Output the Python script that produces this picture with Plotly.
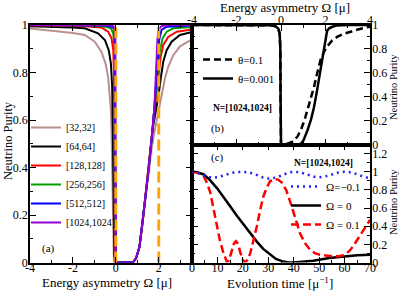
import plotly.graph_objects as go

FONT = "Liberation Serif, Times New Roman, serif"
W, H = 399, 293

# ---------------- Panel (a): purity vs energy asymmetry for several N ----------------
labels_a = ["[32,32]", "[64,64]", "[128,128]", "[256,256]", "[512,512]", "[1024,1024]"]
colors_a = ["#bc8f8f", "#000000", "#ff0000", "#00a000", "#0000ff", "#9400d3"]

omega_32 = [-4, -3, -2, -1.45, -0.98, -0.67, -0.48, -0.36, -0.28, -0.23, -0.2, -0.17, -0.14, -0.12, -0.09, 0.0,
            0.8, 0.95, 1.1, 1.25, 1.41, 1.54, 1.66, 1.8, 1.95, 2.1, 2.2, 2.29, 2.44, 2.68, 2.99, 3.46, 3.6]
purity_32 = [0.985, 0.977, 0.966, 0.958, 0.93, 0.887, 0.838, 0.782, 0.712, 0.64, 0.557, 0.4, 0.2, 0.05, 0.0, 0.0,
             0.0, 0.02, 0.065, 0.17, 0.30, 0.40, 0.475, 0.55, 0.62, 0.685, 0.735, 0.775, 0.824, 0.873, 0.91, 0.937, 0.942]

omega_64 = [-4, -3, -2, -1.45, -0.83, -0.51, -0.33, -0.23, -0.17, -0.14, -0.12, -0.1, -0.07, 0.0,
            0.8, 0.95, 1.1, 1.25, 1.41, 1.54, 1.64, 1.72, 1.82, 1.92, 2.0, 2.1, 2.21, 2.37, 2.6, 2.99, 3.6]
purity_64 = [0.995, 0.993, 0.99, 0.986, 0.965, 0.937, 0.894, 0.838, 0.74, 0.557, 0.4, 0.2, 0.03, 0.0,
             0.0, 0.02, 0.065, 0.17, 0.30, 0.40, 0.486, 0.565, 0.615, 0.665, 0.71, 0.78, 0.845, 0.894, 0.93, 0.958, 0.972]

omega_128 = [-4, -2, -1.45, -0.67, -0.36, -0.2, -0.12, -0.09, -0.08, -0.07, -0.05, 0.0,
             0.8, 0.95, 1.1, 1.25, 1.41, 1.54, 1.64, 1.72, 1.78, 1.87, 1.95, 2.01, 2.09, 2.21, 2.44, 2.84, 3.6]
purity_128 = [0.999, 0.997, 0.995, 0.99, 0.972, 0.944, 0.894, 0.81, 0.557, 0.3, 0.05, 0.0,
              0.0, 0.02, 0.065, 0.17, 0.30, 0.40, 0.486, 0.57, 0.63, 0.70, 0.75, 0.796, 0.866, 0.916, 0.95, 0.972, 0.982]

omega_256 = [-4, -1, -0.51, -0.23, -0.12, -0.08, -0.06, -0.05, -0.04, -0.03, 0.0,
             0.8, 0.95, 1.1, 1.25, 1.41, 1.54, 1.64, 1.72, 1.8, 1.87, 1.93, 1.98, 2.06, 2.18, 2.37, 2.68, 3.6]
purity_256 = [1.0, 0.998, 0.993, 0.986, 0.965, 0.923, 0.85, 0.6, 0.3, 0.05, 0.0,
              0.0, 0.02, 0.065, 0.17, 0.30, 0.40, 0.486, 0.57, 0.655, 0.73, 0.78, 0.824, 0.894, 0.944, 0.972, 0.986, 0.992]

omega_512 = [-4, -0.5, -0.2, -0.08, -0.05, -0.04, -0.03, -0.02, 0.0,
             0.8, 0.95, 1.1, 1.25, 1.41, 1.54, 1.64, 1.72, 1.8, 1.87, 1.92, 1.97, 2.02, 2.13, 2.37, 3.6]
purity_512 = [1.0, 0.998, 0.993, 0.986, 0.958, 0.894, 0.6, 0.2, 0.0,
              0.0, 0.02, 0.065, 0.17, 0.30, 0.40, 0.486, 0.57, 0.655, 0.75, 0.83, 0.89, 0.937, 0.979, 0.993, 0.998]

omega_1024 = [-4, -0.3, -0.12, -0.05, -0.03, -0.02, -0.01, 0.0,
              0.8, 0.95, 1.1, 1.25, 1.41, 1.54, 1.64, 1.72, 1.8, 1.85, 1.9, 1.94, 2.0, 2.1, 2.21, 2.5, 3.6]
purity_1024 = [1.0, 0.999, 0.995, 0.99, 0.985, 0.95, 0.5, 0.0,
               0.0, 0.02, 0.065, 0.17, 0.30, 0.40, 0.486, 0.57, 0.655, 0.75, 0.86, 0.94, 0.98, 0.993, 0.997, 1.0, 1.0]

omegas_a = [omega_32, omega_64, omega_128, omega_256, omega_512, omega_1024]
purities_a = [purity_32, purity_64, purity_128, purity_256, purity_512, purity_1024]

# vertical reference lines (orange dashed) at Omega = 0 and 2
vline_omega = [0, 2]
vline_purity = [0, 1]

# ---------------- Panel (b): two mixing angles, N=[1024,1024] ----------------
omega_b_01 = [-4, -1, -0.45, -0.25, -0.12, -0.06, -0.03, -0.02, 0.0, 0.07, 0.3, 0.59, 0.75, 0.89, 1.05, 1.19, 1.33,
              1.48, 1.63, 1.78, 1.92, 2.07, 2.3, 2.52, 2.8, 3.11, 3.5, 3.85, 4.0]
purity_b_01 = [1.0, 1.0, 0.997, 0.99, 0.97, 0.93, 0.8, 0.4, 0.0, 0.0, 0.008, 0.03, 0.07, 0.12, 0.2, 0.29, 0.38,
               0.48, 0.6, 0.71, 0.77, 0.82, 0.87, 0.90, 0.925, 0.944, 0.965, 0.98, 0.985]

omega_b_0001 = [-4, -1, -0.45, -0.25, -0.12, -0.06, -0.03, -0.02, 0.0, 0.75, 0.89, 1.0, 1.19, 1.35, 1.48, 1.6,
                1.70, 1.78, 1.85, 1.93, 2.0, 2.07, 2.15, 2.3, 2.5, 3.0, 4.0]
purity_b_0001 = [1.0, 1.0, 0.997, 0.99, 0.97, 0.93, 0.8, 0.4, 0.0, 0.0, 0.006, 0.03, 0.118, 0.21, 0.31, 0.43,
                 0.54, 0.63, 0.71, 0.81, 0.90, 0.95, 0.97, 0.985, 0.995, 1.0, 1.0]

# ---------------- Panel (c): time evolution ----------------
time_m01 = [0, 2, 4, 6, 8, 10, 12, 14, 16, 18, 20, 22, 24, 26, 28, 30, 32, 34, 36, 38, 40, 42, 44, 46, 48, 50,
            52, 54, 56, 58, 60, 62, 64, 66, 68, 70]
purity_m01 = [1.0, 0.99, 0.965, 0.945, 0.935, 0.94, 0.955, 0.975, 0.99, 0.998, 1.0, 0.995, 0.98, 0.955, 0.935,
              0.925, 0.93, 0.945, 0.97, 0.99, 1.0, 0.995, 0.98, 0.96, 0.945, 0.94, 0.945, 0.96, 0.98, 0.995,
              1.0, 0.995, 0.98, 0.96, 0.94, 0.93]

time_0 = [0, 2, 4.6, 7, 9.8, 12.5, 15, 17.5, 20.2, 23, 25.5, 28, 30.7, 33, 35.9, 38, 40, 43, 47.7, 54, 60.8, 65, 70]
purity_0 = [1.0, 0.995, 0.97, 0.91, 0.82, 0.72, 0.62, 0.52, 0.42, 0.32, 0.23, 0.15, 0.085, 0.04, 0.01, 0.0, 0.0,
            0.005, 0.02, 0.05, 0.07, 0.08, 0.085]

time_p01 = [0, 2, 4.6, 6, 7.2, 8.5, 9.8, 11, 12.4, 13.7, 14.5, 15.5, 16.5, 17.3, 18.2, 19, 20, 20.9, 21.8, 22.9,
            24, 25.5, 27, 28.1, 29.5, 30.7, 32.7, 34, 35.3, 37, 38.5, 40.5, 42.5, 44.5, 46.4, 48.5, 50.3, 55.5,
            58, 60.1, 62, 63.4, 65, 66.7, 68.5, 70]
purity_p01 = [1.0, 0.99, 0.95, 0.87, 0.77, 0.6, 0.40, 0.24, 0.10, 0.01, 0.02, 0.12, 0.21, 0.235, 0.2, 0.11, 0.03,
              0.0, 0.03, 0.1, 0.22, 0.4, 0.6, 0.73, 0.83, 0.895, 0.92, 0.91, 0.88, 0.8, 0.68, 0.5, 0.32, 0.21,
              0.14, 0.1, 0.085, 0.066, 0.07, 0.085, 0.13, 0.18, 0.25, 0.32, 0.4, 0.47]

fig = go.Figure()

for lab, col, xs, ys in zip(labels_a, colors_a, omegas_a, purities_a):
    fig.add_trace(go.Scatter(x=xs, y=ys, mode="lines", name=lab, line=dict(color=col, width=2),
                             xaxis="x", yaxis="y", legend="legend"))
for xv in vline_omega:
    fig.add_trace(go.Scatter(x=[xv, xv], y=vline_purity, mode="lines", showlegend=False,
                             line=dict(color="#ffa500", width=3, dash="11px,5px"), xaxis="x", yaxis="y"))

fig.add_trace(go.Scatter(x=omega_b_0001, y=purity_b_0001, mode="lines", name="θ=0.001",
                         line=dict(color="black", width=2.5), xaxis="x2", yaxis="y2", legend="legend2",
                         legendrank=2))
fig.add_trace(go.Scatter(x=omega_b_01, y=purity_b_01, mode="lines", name="θ=0.1",
                         line=dict(color="black", width=2.5, dash="7px,4px"), xaxis="x2", yaxis="y2",
                         legend="legend2", legendrank=1))

fig.add_trace(go.Scatter(x=time_0, y=purity_0, mode="lines", name="Ω = 0",
                         line=dict(color="black", width=2.5), xaxis="x3", yaxis="y3", legend="legend3",
                         legendrank=2))
fig.add_trace(go.Scatter(x=time_p01, y=purity_p01, mode="lines", name="Ω = 0.1",
                         line=dict(color="#ff0000", width=2.5, dash="8px,4px"), xaxis="x3", yaxis="y3",
                         legend="legend3", legendrank=3))
fig.add_trace(go.Scatter(x=time_m01, y=purity_m01, mode="lines", name="Ω=−0.1",
                         line=dict(color="#2020ff", width=2.5, dash="2px,4px"), xaxis="x3", yaxis="y3",
                         legend="legend3", legendrank=1))

def px(x):
    return x / W

def py(y):
    return 1 - y / H

ax_common = dict(showline=True, linewidth=1.5, linecolor="black", ticks="inside", ticklen=6, tickwidth=1.2,
                 tickcolor="black", mirror="ticks", showgrid=False, zeroline=False, automargin=False,
                 tickfont=dict(family=FONT, size=12, color="black"))
minor_c = dict(ticks="inside", ticklen=3, tickwidth=1, tickcolor="black")

xa_dom = [px(30), px(192)]
xb_dom = [px(192), px(370)]
y_top, y_mid, y_bot = py(25), py(144.5), py(262.5)

fig.update_layout(
    width=W, height=H, margin=dict(l=0, r=0, t=0, b=0),
    paper_bgcolor="white", plot_bgcolor="white", template="none",
    font=dict(family=FONT, color="black"),
    xaxis=dict(domain=xa_dom, anchor="y", range=[-4, 3.55], tickvals=[-4, -2, 0, 2],
               ticktext=["-4", "-2", "0", "2"], ticklabelstandoff=-7,
               minor=dict(dtick=1, tick0=0, **minor_c), **ax_common),
    yaxis=dict(domain=[y_bot, y_top], anchor="x", range=[0, 1], dtick=0.2, ticklabelstandoff=-2,
               minor=dict(dtick=0.1, **minor_c), **ax_common),
    xaxis2=dict(domain=xb_dom, anchor="y2", range=[-4, 4], side="top", tickvals=[-4, -2, 0, 2, 4],
                ticktext=["-4", "-2", "0", "2", "4"], ticklabelstandoff=-6,
                minor=dict(dtick=1, tick0=0, **minor_c), **ax_common),
    yaxis2=dict(domain=[y_mid, y_top], anchor="x2", side="right", range=[0, 1], dtick=0.2,
                ticklabelstandoff=-2, minor=dict(dtick=0.1, **minor_c), **ax_common),
    xaxis3=dict(domain=xb_dom, anchor="y3", range=[0, 70], dtick=10, ticklabelstandoff=-7,
                minor=dict(dtick=5, **minor_c), **ax_common),
    yaxis3=dict(domain=[y_bot, y_mid], anchor="x3", side="right", range=[0, 1.3], dtick=0.2,
                ticklabelstandoff=-2, minor=dict(dtick=0.1, **minor_c), **ax_common),
    legend=dict(x=px(26), y=py(113), xanchor="left", yanchor="top", bgcolor="rgba(0,0,0,0)",
                font=dict(family=FONT, size=10, color="black"), itemwidth=30, tracegroupgap=0),
    legend2=dict(x=px(198), y=py(45), xanchor="left", yanchor="top", bgcolor="rgba(0,0,0,0)",
                 font=dict(family=FONT, size=11, color="black"), itemwidth=30),
    legend3=dict(x=px(286), y=py(172), xanchor="left", yanchor="top", bgcolor="rgba(0,0,0,0)",
                 font=dict(family=FONT, size=11, color="black"), itemwidth=30),
)

def ann(text, x, y, size, angle=0, bold=False, xanchor="center"):
    if bold:
        text = "<b>" + text + "</b>"
    fig.add_annotation(text=text, x=px(x), y=py(y), xref="paper", yref="paper", showarrow=False,
                       textangle=angle, xanchor=xanchor, yanchor="middle",
                       font=dict(family=FONT, size=size, color="black"))

ann("Energy asymmetry Ω [μ]", 107, 282, 13)
ann("Energy asymmetry Ω [μ]", 285, 7, 13)
ann("Evolution time [μ<sup>−1</sup>]", 280, 283, 13)
ann("Neutrino Purity", 8, 141, 12.5, angle=-90)
ann("Neutrino Purity", 393, 87, 10.5, angle=-90)
ann("Neutrino Purity", 393, 202, 10.5, angle=-90)
ann("(a)", 48.5, 248, 11)
ann("(b)", 217.5, 128, 11)
ann("(c)", 217.5, 157, 11)
ann("N=[1024,1024]", 242.5, 108, 9.5, bold=True)
ann("N=[1024,1024]", 323.5, 163, 9.5, bold=True)

fig.write_html("out.html", config={"displayModeBar": False},
               post_script="document.body.style.margin='0px';document.body.style.padding='0px';")
